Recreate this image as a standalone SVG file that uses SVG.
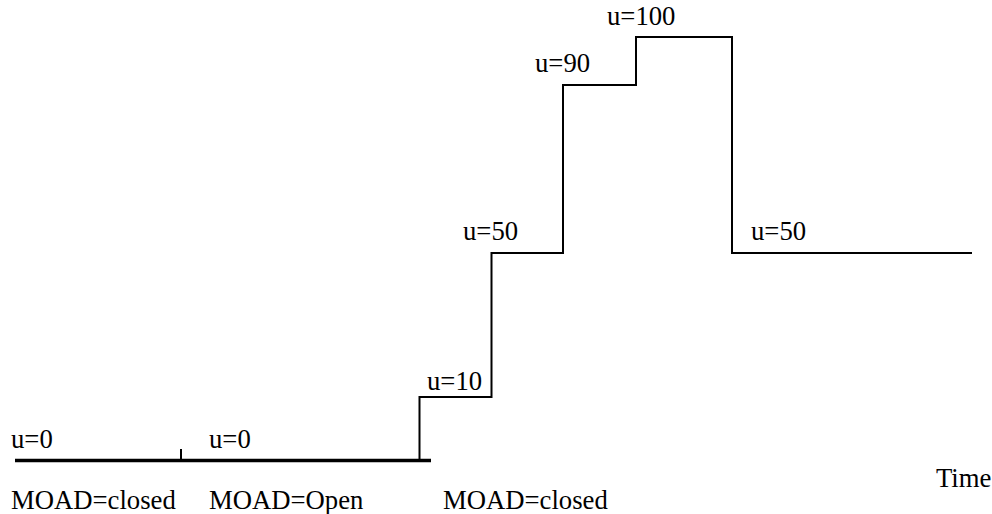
<svg xmlns="http://www.w3.org/2000/svg" width="992" height="514" viewBox="0 0 992 514">
<style>
text{font-family:"Liberation Serif","Times New Roman",serif;font-size:26.7px;fill:#000}
.thin{fill:none;stroke:#000;stroke-width:2}
.thick{fill:none;stroke:#000;stroke-width:3.5}
</style>
<rect width="992" height="514" fill="#fff"/>
<g id="connectors">
<line class="thick" x1="15" y1="460.5" x2="431" y2="460.5"/>
<line class="thin" x1="181" y1="449" x2="181" y2="460"/>
<polyline class="thin" points="419.5,460 419.5,397 491.5,397 491.5,253 563,253 563,85 636,85 636,37 732,37 732,253 972,253"/>
</g>
<g id="labels">
<text x="11" y="448">u=0</text>
<text x="209" y="448">u=0</text>
<text x="427" y="390">u=10</text>
<text x="463" y="240">u=50</text>
<text x="535" y="72">u=90</text>
<text x="607" y="25">u=100</text>
<text x="751" y="240">u=50</text>
<text x="936" y="487">Time</text>
<text x="11" y="509">MOAD=closed</text>
<text x="209" y="509">MOAD=Open</text>
<text x="443" y="509">MOAD=closed</text>
</g>
</svg>
